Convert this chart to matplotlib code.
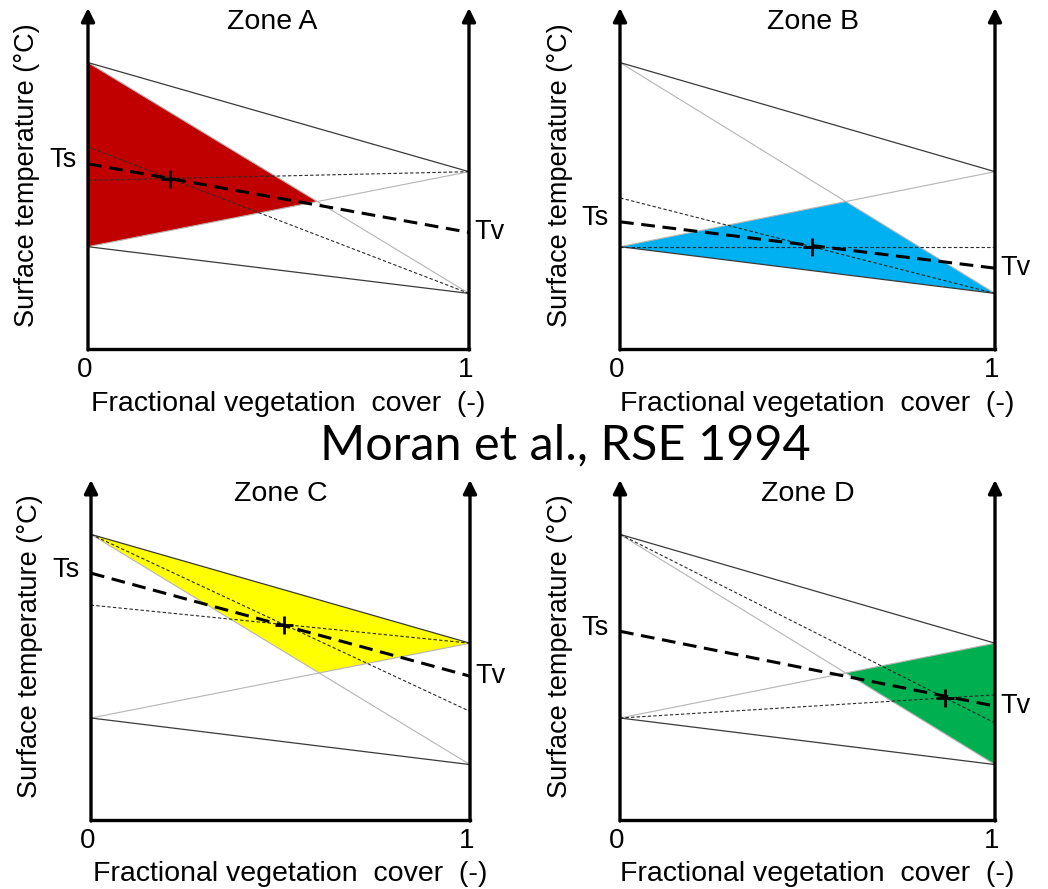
import matplotlib.pyplot as plt

plt.rcParams['font.family'] = ['Liberation Sans', 'DejaVu Sans']

W, H = 1048, 889

# trapezoid edges (surface temperature, arbitrary scale 0-100) at fv = 0 and fv = 1
fv_ends = [0.0, 1.0]
dry_edge = [84.0, 52.0]
wet_edge = [30.0, 16.3]

zone_names = ['Zone A', 'Zone B', 'Zone C', 'Zone D']
zone_colors = ['#C00000', '#00B0F0', '#FFFF00', '#00B050']
# corners of the trapezoid forming each zone (with the diagonal crossing)
zone_corners = [('A', 'D'), ('D', 'C'), ('A', 'B'), ('B', 'C')]
# corners from which thin guide lines pass through the observed point
guide_corners = [('B', 'C'), ('C', 'D'), ('A', 'B'), ('A', 'D')]

ts_values = [54.3, 37.3, 72.6, 55.5]
tv_values = [34.2, 23.7, 42.3, 33.5]
obs_fv = [0.215, 0.511, 0.509, 0.867]
obs_t = [50.0, 30.0, 57.5, 35.9]

# panel frames in pixels: left axis x, right axis x, bottom y, arrow tip y
panel_px = [(88, 469, 349, 8), (620, 995, 349, 8),
            (91, 470, 820, 480), (620, 995, 820, 480)]
title_x = [0.483, 0.515, 0.50, 0.50]

corners = {'A': (fv_ends[0], dry_edge[0]), 'B': (fv_ends[1], dry_edge[1]),
           'C': (fv_ends[1], wet_edge[1]), 'D': (fv_ends[0], wet_edge[0])}


def diagonal_crossing():
    """Ponto onde as diagonais A-C e D-B do trapézio se cruzam."""
    (ax_, ay), (cx, cy) = corners['A'], corners['C']
    (dx, dy), (bx, by) = corners['D'], corners['B']
    s1 = (cy - ay) / (cx - ax_)
    s2 = (by - dy) / (bx - dx)
    x = (dy - ay) / (s1 - s2)
    return x, ay + s1 * x


fig = plt.figure(figsize=(W / 100, H / 100), dpi=100)
xc, yc = diagonal_crossing()

for i in range(4):
    x0, x1, yb, yt = panel_px[i]
    ax = fig.add_axes([x0 / W, (H - yb) / H, (x1 - x0) / W, (yb - yt) / H])
    ax.set_xlim(0, 1)
    ax.set_ylim(0, 100)
    ax.axis('off')

    # zone fill
    c1, c2 = zone_corners[i]
    ax.fill([corners[c1][0], corners[c2][0], xc], [corners[c1][1], corners[c2][1], yc],
            color=zone_colors[i], lw=0, zorder=1, clip_on=False)

    # diagonals
    ax.plot(fv_ends, [dry_edge[0], wet_edge[1]], color='#b5b5b5', lw=0.8, zorder=2, clip_on=False)
    ax.plot(fv_ends, [wet_edge[0], dry_edge[1]], color='#b5b5b5', lw=0.8, zorder=2, clip_on=False)

    # dry and wet edges
    ax.plot(fv_ends, dry_edge, color='#3a3a3a', lw=0.9, zorder=3, clip_on=False)
    ax.plot(fv_ends, wet_edge, color='#3a3a3a', lw=0.9, zorder=3, clip_on=False)

    # thin dashed guides through the observed point
    px, py = obs_fv[i], obs_t[i]
    for name in guide_corners[i]:
        cx, cy = corners[name]
        tx = 1 - cx
        yend = cy + (py - cy) / (px - cx) * (tx - cx)
        ax.plot([cx, tx], [cy, yend], color='#2a2a2a', lw=0.8,
                linestyle=(0, (3, 2)), zorder=4, clip_on=False)

    # Ts - Tv line and observed point
    ax.plot(fv_ends, [ts_values[i], tv_values[i]], color='k', lw=2.2,
            linestyle=(0, (4.5, 2.5)), zorder=5, clip_on=False)
    ax.plot(px, py, marker='+', ms=13, mew=2, color='k', zorder=6, clip_on=False)

    # axes with arrows
    ax.plot([0, 1], [0, 0], color='k', lw=2.4, solid_capstyle='projecting', zorder=7, clip_on=False)
    for xa in (0, 1):
        ax.annotate('', xy=(xa, 100), xytext=(xa, -0.3),
                    arrowprops=dict(arrowstyle='-|>', lw=2.4, color='k',
                                    mutation_scale=20, shrinkA=0, shrinkB=0),
                    zorder=7, annotation_clip=False)

    # texts
    ax.text(title_x[i], 96, zone_names[i], ha='center', va='center', fontsize=20.5)
    ax.text(-0.03, ts_values[i] + 1, 'Ts', ha='right', va='center', fontsize=19.5)
    ax.text(1.015, tv_values[i], 'Tv', ha='left', va='center', fontsize=19.5)
    ax.text(-0.008, -6.2, '0', ha='center', va='center', fontsize=20)
    ax.text(0.992, -6.2, '1', ha='center', va='center', fontsize=20)
    ax.text(0.525, -16, 'Fractional vegetation  cover  (-)', ha='center', va='center', fontsize=20.5)
    ax.text(-0.16, 51, 'Surface temperature (°C)', ha='center', va='center',
            rotation=90, fontsize=19.5)

fig.text(565 / W, 1 - 445 / H, 'Moran et al., RSE 1994', ha='center', va='center',
         fontsize=35, family=['Lato', 'DejaVu Sans'])

fig.savefig('out.png', dpi=100)
